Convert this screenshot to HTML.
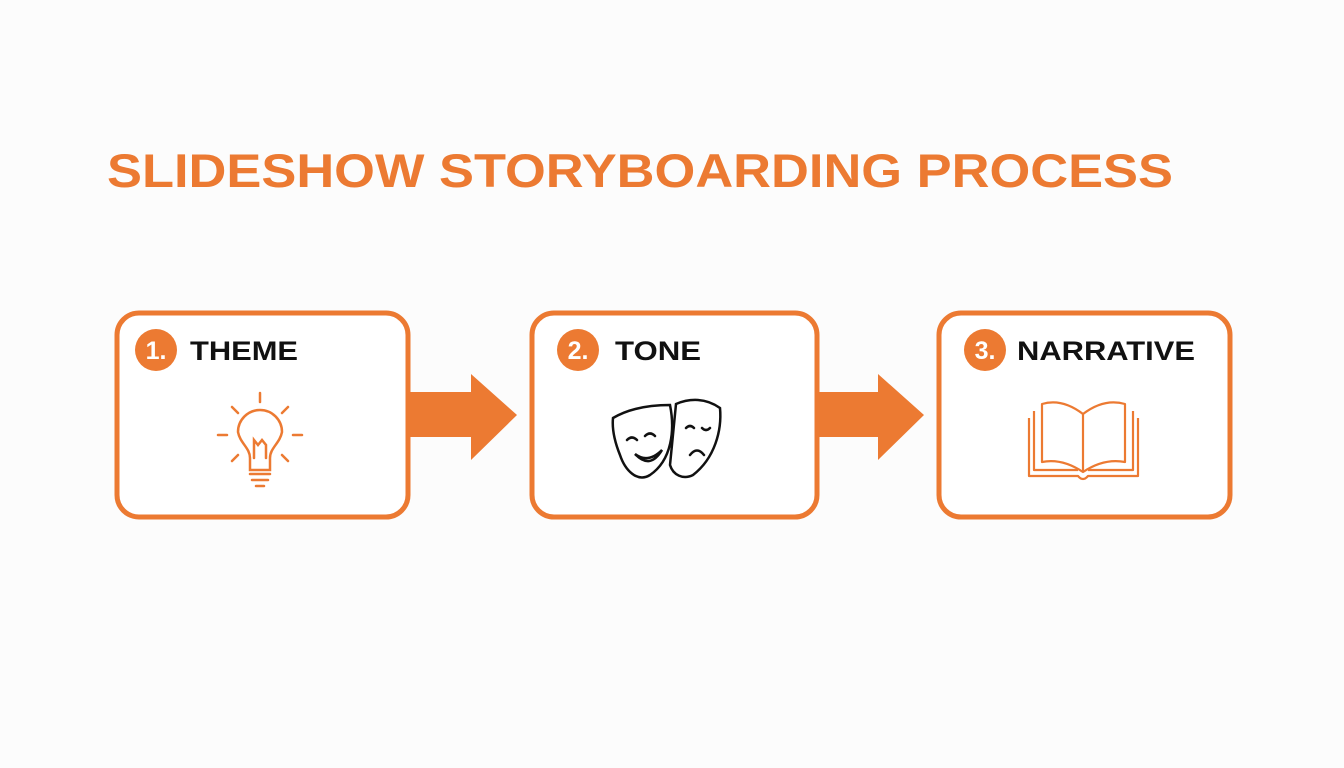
<!DOCTYPE html>
<html><head><meta charset="utf-8"><style>
html,body{margin:0;padding:0;background:#fcfcfc;}
svg{display:block}
text{font-family:"Liberation Sans",Arial,sans-serif;font-weight:bold}
</style></head><body>
<svg width="1344" height="768" viewBox="0 0 1344 768" xmlns="http://www.w3.org/2000/svg">
<rect width="1344" height="768" fill="#fcfcfc"/>
<text x="107" y="187" font-size="47" fill="#ec7a32" textLength="1066" lengthAdjust="spacingAndGlyphs">SLIDESHOW STORYBOARDING PROCESS</text>

<g fill="#fff" stroke="#ec7a32" stroke-width="5">
<rect x="117" y="313" width="291" height="204" rx="22"/>
<rect x="532" y="313" width="285" height="204" rx="22"/>
<rect x="939" y="313" width="291" height="204" rx="22"/>
</g>
<g fill="#ec7a32">
<polygon points="410,392 471,392 471,374 517,415 471,460 471,437 410,437"/>
<polygon points="819,392 878,392 878,374 924,415 878,460 878,437 819,437"/>
<circle cx="156" cy="350" r="21"/>
<circle cx="578" cy="350" r="21"/>
<circle cx="985" cy="350" r="21"/>
</g>
<g fill="#fff" font-size="25" text-anchor="middle">
<text x="156" y="359">1.</text><text x="578" y="359">2.</text><text x="985" y="359">3.</text>
</g>
<g fill="#111" font-size="27">
<text x="190" y="360" textLength="108" lengthAdjust="spacingAndGlyphs">THEME</text>
<text x="615" y="360" textLength="86" lengthAdjust="spacingAndGlyphs">TONE</text>
<text x="1017" y="360" textLength="178" lengthAdjust="spacingAndGlyphs">NARRATIVE</text>
</g>

<!-- bulb -->
<g fill="none" stroke="#ec7a32" stroke-width="2.5" stroke-linecap="round">
<path d="M250,470 L250,458 C250,448 240,443 238,432 A22,22 0 1 1 282,432 C280,443 270,448 270,458 L270,470 Z"/>
<path d="M250,474 L270,474 M252,480 L268,480 M256,486 L264,486"/>
<path d="M254,458 L254,440 L258,445 L262,440 L266,445 L266,458"/>
<path d="M260,393 L260,402 M232,407 L238,413 M288,407 L282,413 M218,435 L227,435 M293,435 L302,435 M232,461 L238,455 M288,461 L282,455"/>
</g>
<!-- masks -->
<g fill="#fff" stroke="#111" stroke-width="2.5" stroke-linecap="round">
<path d="M676,404 C690,398 706,398 720,408 C722,430 715,458 693,475 C683,480 673,475 670,465 Z"/>
<path d="M613,418 C630,408 650,405 670,405 C675,430 672,460 650,475 C637,483 625,470 620,455 C614,440 612,428 613,418 Z"/>
<path fill="none" d="M627,440 Q632,435 637,440 M645,436 Q650,431 655,436 M686,428 Q690,424 694,428 M702,428 Q706,432 710,428 M690,455 Q697,446 704,455"/>
<path d="M635,454 Q648,464 662,450 Q650,470 635,454 Z"/>
</g>
<!-- book -->
<g fill="none" stroke="#ec7a32" stroke-width="2.2" stroke-linejoin="round">
<path d="M1029,418 L1029,476 L1078,476 Q1083,482 1088,476 L1138,476 L1138,418"/>
<path d="M1034,411 L1034,470 L1078,470 M1088,470 L1133,470 L1133,411"/>
<path d="M1042,404 Q1062,398 1083,414 Q1104,398 1125,404 L1125,462 Q1104,458 1083,472 Q1062,458 1042,462 Z"/>
<path d="M1083,414 L1083,472"/>
</g>
</svg>
</body></html>
